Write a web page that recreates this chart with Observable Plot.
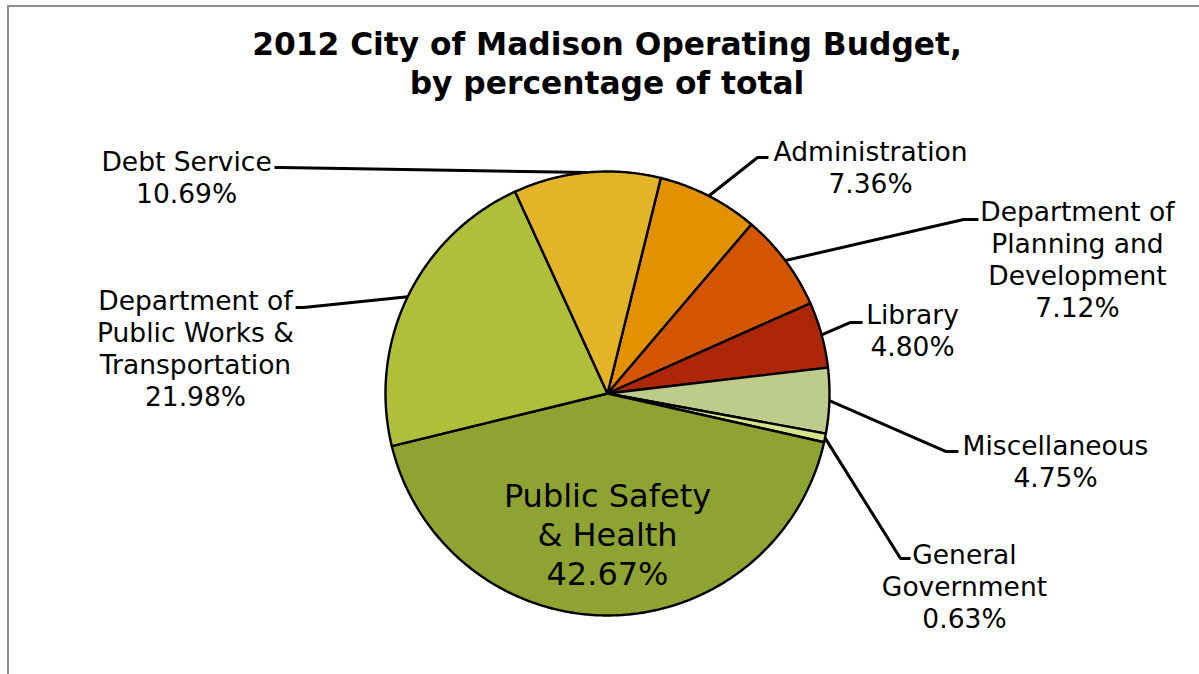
<!DOCTYPE html>
<html><head><meta charset="utf-8">
<script src="https://cdn.jsdelivr.net/npm/d3@7"></script>
<script src="https://cdn.jsdelivr.net/npm/@observablehq/plot@0.6"></script>
<style>
body{margin:0;background:#fff;font-family:"DejaVu Sans",Verdana,sans-serif;}
#wrap{position:relative;width:1199px;height:674px;overflow:hidden;background:#fff;}
#frame{position:absolute;left:7px;top:5px;width:1300px;height:800px;border-left:2px solid #8c8c8c;border-top:2px solid #8c8c8c;}
#title{position:absolute;left:0;top:25px;width:1214px;text-align:center;font-weight:bold;font-size:31.3px;line-height:39px;color:#000;}
#chart{position:absolute;left:0;top:110px;}
</style></head><body>
<div id="wrap"><div id="frame"></div><div id="title">2012 City of Madison Operating Budget,<br>by percentage of total</div><div id="chart"></div></div>
<script>
// ---- data (clockwise order from the first slice) ----
const categories = ["Administration","Department of Planning and Development","Library","Miscellaneous","General Government","Public Safety & Health","Department of Public Works & Transportation","Debt Service"];
const labelLines = ["Administration","Department of\nPlanning and\nDevelopment","Library","Miscellaneous","General\nGovernment","Public Safety\n& Health","Department of\nPublic Works &\nTransportation","Debt Service"];
const percents = [7.36, 7.12, 4.80, 4.75, 0.63, 42.67, 21.98, 10.69];
const colors = ["#e29200","#d45500","#ad2607","#bdcb8b","#d8e48c","#8fa332","#afbf3a","#e3b428"];

// ---- layout (pie radius units, pie centre at 0,0) ----
const startAngleDeg = 13.9;
const labelCenters = [[1.185,1.0225],[2.117,0.606],[1.374,0.286],[2.018,-0.304],[1.608,-0.867],[0,-0.631],[-1.856,0.207],[-1.896,0.977]];
const leaderStarts = [
  [[0.725,1.063],[0.676,1.063]],
  [[1.671,0.784],[1.604,0.784]],
  [[1.149,0.320],[1.095,0.320]],
  [[1.581,-0.261],[1.523,-0.261]],
  [[1.365,-0.743],[1.320,-0.743]],
  null,
  [[-1.405,0.387],[-1.369,0.387]],
  [[-1.500,1.018],[-1.470,1.018]]
];

const total = d3.sum(percents);
const rad = Math.PI/180;
let acc = startAngleDeg*rad;
const slices = categories.map((name,i)=>{
  const a0 = acc, a1 = acc + percents[i]/total*2*Math.PI;
  acc = a1;
  return {name, pct: percents[i], color: colors[i], a0, a1, mid:(a0+a1)/2, label: labelLines[i], i};
});

// polygon outline of each slice
const slicePts = [];
for (const s of slices) {
  slicePts.push({name:s.name, color:s.color, x:0, y:0});
  const n = Math.max(2, Math.ceil((s.a1-s.a0)/(0.5*rad)));
  for (let k=0;k<=n;k++){
    const a = s.a0 + (s.a1-s.a0)*k/n;
    slicePts.push({name:s.name, color:s.color, x:Math.sin(a), y:Math.cos(a)});
  }
  slicePts.push({name:s.name, color:s.color, x:0, y:0});
}

// leader lines
const leaderPts = [];
slices.forEach((s,i)=>{
  if(!leaderStarts[i]) return;
  for (const [x,y] of leaderStarts[i]) leaderPts.push({name:s.name, x, y});
  leaderPts.push({name:s.name, x:Math.sin(s.mid), y:Math.cos(s.mid)});
});

const outside = slices.filter((s,i)=>leaderStarts[i]).map(s=>({
  x: labelCenters[s.i][0], y: labelCenters[s.i][1],
  text: s.label + "\n" + s.pct.toFixed(2) + "%"
}));
const inside = slices.filter((s,i)=>!leaderStarts[i]).map(s=>({
  x: labelCenters[s.i][0], y: labelCenters[s.i][1],
  text: s.label + "\n" + s.pct.toFixed(2) + "%"
}));

const chart = Plot.plot({
  width: 1199, height: 564,
  margin: 0,
  x: {domain: [-2.7342, 2.6667], axis: null},
  y: {domain: [-1.2658, 1.2748], axis: null},
  style: {fontFamily: '"DejaVu Sans", Verdana, sans-serif', background: "transparent", color: "black"},
  marks: [
    Plot.line(slicePts, {x:"x", y:"y", z:"name", fill:"color", stroke:"black", strokeWidth:2.4, strokeLinejoin:"round", curve:"linear"}),
    Plot.line(leaderPts, {x:"x", y:"y", z:"name", stroke:"black", strokeWidth:3, strokeLinejoin:"miter", strokeLinecap:"butt", curve:"linear"}),
    Plot.text(outside, {x:"x", y:"y", text:"text", fontSize:26.5, lineHeight:1.21, lineAnchor:"middle", textAnchor:"middle", fill:"black"}),
    Plot.text(inside, {x:"x", y:"y", text:"text", fontSize:32, lineHeight:1.22, lineAnchor:"middle", textAnchor:"middle", fill:"black"})
  ]
});
document.getElementById("chart").appendChild(chart);
</script>
</body></html>
